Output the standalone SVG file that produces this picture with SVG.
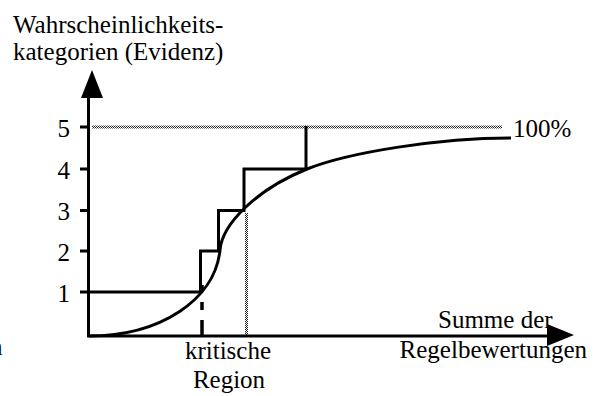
<svg xmlns="http://www.w3.org/2000/svg" width="598" height="396" viewBox="0 0 598 396">
<style>
text{font-size:25px;fill:#000}
.ln{fill:none;stroke:#000;stroke-width:3}
</style>
<defs>
<pattern id="dots" width="2" height="2" patternUnits="userSpaceOnUse">
<rect width="2" height="2" fill="#fff"/>
<rect width="1" height="1" fill="#222"/>
<rect x="1" y="1" width="1" height="1" fill="#222"/>
</pattern>
</defs>
<rect width="598" height="396" fill="#fff"/>
<g id="labels" font-family="'Liberation Serif', 'Times New Roman', 'DejaVu Serif', serif">
<text x="13" y="33">Wahrscheinlichkeits-</text>
<text x="13" y="60">kategorien (Evidenz)</text>
<text x="70" y="137" text-anchor="end">5</text>
<text x="70" y="179" text-anchor="end">4</text>
<text x="70" y="220" text-anchor="end">3</text>
<text x="70" y="261" text-anchor="end">2</text>
<text x="70" y="302" text-anchor="end">1</text>
<text x="513" y="137">100%</text>
<text x="438" y="328">Summe der</text>
<text x="587" y="358" text-anchor="end">Regelbewertungen</text>
<text x="228" y="359" text-anchor="middle">kritische</text>
<text x="229" y="388" text-anchor="middle">Region</text>
<text x="-10" y="355">n</text>
</g>
<g id="guides">
<rect x="92" y="125.5" width="410" height="3" fill="url(#dots)"/>
<rect x="245" y="213" width="3" height="122" fill="url(#dots)"/>
</g>
<g id="connectors">
<g id="axes">
<path class="ln" d="M88.5,95 V336 H550"/>
<path d="M81,98 L92,70 L103,98 Z" fill="#000"/>
<path d="M547,324 L574,335 L547,346 Z" fill="#000"/>
<path class="ln" d="M80,127 H88 M80,169 H88 M80,210.5 H88 M80,251 H88"/>
</g>
<path id="steps" class="ln" d="M80,292 H200.5 V251 H218.5 V210.5 H244 V169 H306 V126"/>
<path id="curve" class="ln" d="M89,336 C160,336 215,300 220,250 C222,225 255,190 307,169 C350,152 440,138 511,138"/>
<path id="critical" d="M202,336 V285" fill="none" stroke="#000" stroke-width="3.5" stroke-dasharray="16 10 8 12 5"/>
</g>
</svg>
